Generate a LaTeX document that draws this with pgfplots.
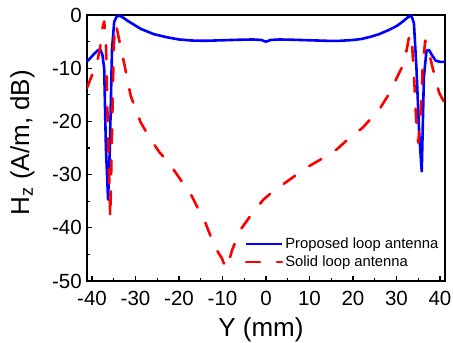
\documentclass[border=0pt]{standalone}
\usepackage{pgfplots}
\pgfplotsset{compat=1.18}
\usepackage{fontspec}
\setmainfont{Liberation Sans}
\begin{document}
\begin{tikzpicture}
\begin{axis}[
  scale only axis,
  width=358pt, height=266pt,
  xmin=-41.15, xmax=41.15, ymin=-50, ymax=0,
  xtick={-40,-30,...,40},
  xticklabels={-40,-30,-20,-10,0,10,20,30,40},
  ytick={-50,-40,...,0},
  yticklabels={-50,-40,-30,-20,-10,0},
  minor tick num=1,
  xtick pos=left, ytick pos=left,
  tick align=inside,
  major tick length=5pt, minor tick length=3pt,
  every tick/.style={black, line width=1.2pt},
  axis line style={line width=1.6pt},
  tick label style={font=\fontsize{20.5}{22}\selectfont, inner sep=0pt},
  xticklabel style={anchor=center, yshift=-17.5pt},
  yticklabel style={anchor=east, xshift=-5pt},
  label style={font=\fontsize{26}{28}\selectfont},
  xlabel={Y (mm)},
  ylabel={H\textsubscript{z} (A/m, dB)},
  xlabel style={at={(rel axis cs:0.486,0)}, anchor=center, yshift=-48.5pt},
  ylabel style={at={(rel axis cs:0,0.52)}, anchor=center, yshift=64.5pt},
  legend style={draw=none, fill=none, at={(0.44,0.04)}, anchor=south west,
    font=\fontsize{14.8}{17}\selectfont, inner sep=0pt, row sep=2pt},
  legend cell align=left,
  legend image code/.code={\draw[#1] (0pt,0pt) -- (36pt,0pt);},
]
\coordinate (sw) at (rel axis cs:0,0);
\addplot[blue, line width=2.6pt, line join=round] coordinates {
(-41.15,-8.7) (-40.5,-8.2) (-39.5,-7.3) (-38.6,-6.6) (-38.1,-6.5) (-37.6,-7.5)
(-37.2,-10) (-36.8,-25) (-36.3,-34.7) (-35.9,-25) (-35.4,-6.5) (-34.9,-1.3)
(-34.4,-0.4) (-33.9,-0.1) (-33,-0.4) (-31.8,-1.1) (-30,-2.0) (-28.8,-2.6)
(-25.8,-3.6) (-22.7,-4.2) (-20,-4.6) (-17,-4.8) (-14,-4.85) (-10,-4.75)
(-6,-4.65) (-3,-4.6) (-1,-4.7) (-0.3,-4.95) (0,-5.0) (0.4,-4.9) (1,-4.7)
(3,-4.6) (6,-4.65) (10,-4.75) (14,-4.85) (17,-4.85) (20,-4.7) (22,-4.5)
(24,-4.1) (26,-3.6) (28,-2.9) (30,-2.1) (31.5,-1.2) (32.5,-0.5) (33.4,-0.1)
(34.0,-1.5) (34.6,-10.2) (35.2,-22) (35.8,-29.4) (36.3,-11.6) (36.9,-6.7)
(37.5,-6.6) (38.2,-7.6) (39.0,-8.6) (40,-8.8) (41.15,-8.8)
};
\addlegendentry{Proposed loop antenna}
\addplot[red, line width=2.6pt, dash pattern=on 14pt off 17pt, line cap=round, line join=round] coordinates {
(-41.15,-13.7) (-40,-11.3) (-39,-9.4) (-38.2,-6.5) (-37.6,-2.5) (-37.2,-1.2)
(-36.8,-5) (-36.4,-20) (-35.8,-38.2) (-35.4,-22) (-35.0,-6) (-34.7,-1.7)
(-34.3,-2.5) (-33.8,-4.5) (-32.5,-9.5) (-31.1,-15.2) (-28.8,-20.2)
(-26.5,-23.4) (-24.5,-25.8) (-22.3,-27.8) (-19.7,-30.9) (-17.4,-33.5)
(-15.5,-36.6) (-13.9,-39.1) (-12.4,-42.3) (-11.3,-44.2) (-10.1,-45.8)
(-9.3,-47.6) (-8.6,-46.5) (-7.8,-44.2) (-5.9,-40.4) (-3.7,-37.9)
(-0.6,-34.7) (1.7,-33.1) (5.5,-30.9) (9.3,-28.7) (13.1,-26.9) (16.2,-25.3)
(19.2,-23.1) (22.2,-21.2) (26.1,-17.7) (28,-15.2) (29.9,-12.1) (31.8,-8.9)
(33.0,-3.6) (33.5,-4.5) (34.1,-12.7) (34.6,-21) (35.0,-24.0) (35.6,-18)
(36.0,-10) (36.6,-4.8) (37.2,-6) (38.2,-9.6) (39.8,-14.6) (41.15,-16.7)
};
\addlegendentry{Solid loop antenna}
\end{axis}
\pgfresetboundingbox
\path (sw) ++(-87pt,-62pt) rectangle ++(453pt,343pt);
\end{tikzpicture}
\end{document}
